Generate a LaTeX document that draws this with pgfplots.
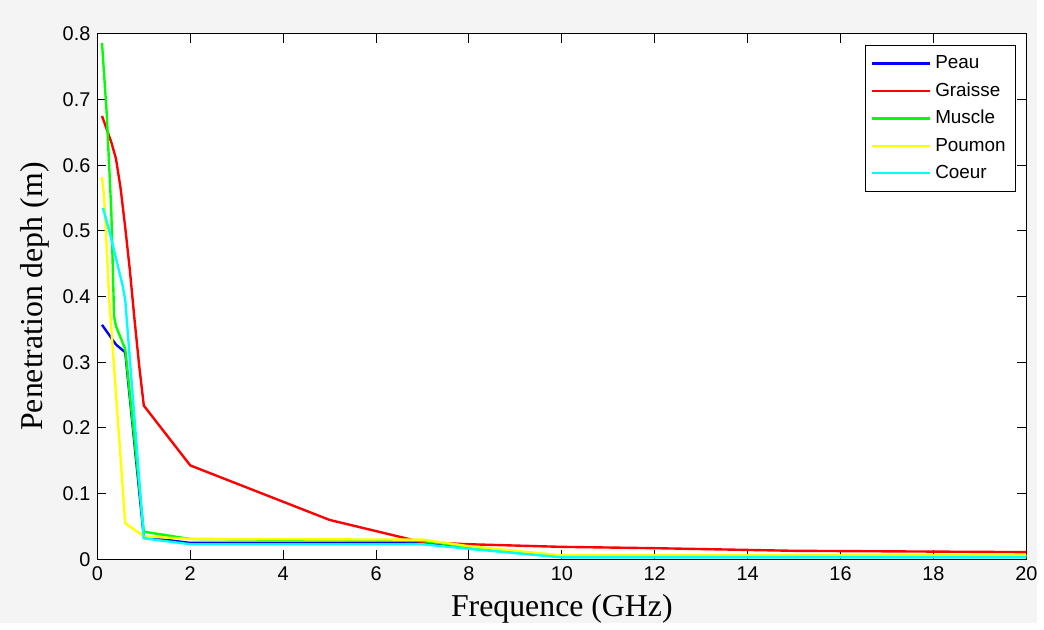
\documentclass[border=0pt]{standalone}
\usepackage{fontspec}
\setmainfont{Liberation Sans}
\newfontfamily\timesfont{Liberation Serif}
\usepackage{xcolor}
\usepackage{pgfplots}
\pgfplotsset{compat=1.18}
\usetikzlibrary{backgrounds}

\definecolor{figbg}{RGB}{244,244,244}
\definecolor{mblue}{RGB}{0,0,255}
\definecolor{mred}{RGB}{255,0,0}
\definecolor{mgreen}{RGB}{0,255,0}
\definecolor{myellow}{RGB}{255,255,0}
\definecolor{mcyan}{RGB}{0,255,255}

\begin{document}
\begin{tikzpicture}
\begin{axis}[
  name=ax,
  width=467.5pt, height=264.5pt,
  scale only axis,
  xmin=0, xmax=20, ymin=0, ymax=0.8,
  xtick={0,2,...,20},
  ytick={0,0.1,...,0.8},
  tick align=inside,
  major tick length=4.5pt,
  tick style={black, line width=0.5pt},
  axis line style={black, line width=0.6pt},
  axis background/.style={fill=white},
  /pgf/number format/assume math mode=true,
  /pgf/number format/fixed,
  /pgf/number format/precision=1,
  ticklabel style={font=\fontsize{10}{11}\selectfont},
  xlabel={\timesfont\fontsize{16}{19}\selectfont Frequence (GHz)},
  ylabel={\timesfont\fontsize{16}{19}\selectfont Penetration deph (m)},
  legend style={at={(0.989,0.979)}, anchor=north east, draw=black,
    font=\fontsize{9.5}{10}\selectfont, row sep=1.6pt, line width=0.6pt,
    inner sep=3pt},
  legend cell align=left,
  legend image code/.code={\draw[#1, line width=1.2pt] (0pt,0pt) -- (29pt,0pt);},
  every axis plot/.append style={line width=1.2pt},
]
% Peau
\addplot[mblue] coordinates {
  (0.1,0.357)(0.4,0.327)(0.6,0.315)(1,0.034)(2,0.025)(7,0.025)(8,0.018)(10,0.004)(20,0.004)
};
% Graisse
\addplot[mred] coordinates {
  (0.1,0.675)(0.2,0.655)(0.3,0.635)(0.4,0.61)(0.5,0.565)(0.6,0.505)(0.7,0.44)(0.8,0.365)
  (0.9,0.295)(1,0.234)(2,0.143)(5,0.06)(7,0.026)(8,0.023)(10,0.019)(12,0.017)(15,0.013)(20,0.011)
};
% Muscle
\addplot[mgreen] coordinates {
  (0.1,0.786)(0.2,0.68)(0.3,0.53)(0.36,0.37)(0.4,0.355)(0.6,0.32)(1,0.042)(2,0.031)
  (7,0.028)(8,0.019)(10,0.005)(20,0.005)
};
% Poumon
\addplot[myellow] coordinates {
  (0.1,0.582)(0.15,0.547)(0.26,0.39)(0.33,0.322)(0.6,0.055)(1,0.035)(2,0.031)(7,0.03)
  (8,0.02)(10,0.006)(20,0.006)
};
% Coeur
\addplot[mcyan] coordinates {
  (0.12,0.535)(0.26,0.499)(0.54,0.418)(0.6,0.395)(1,0.032)(2,0.023)(7,0.023)(8,0.016)
  (10,0.003)(20,0.003)
};
\legend{Peau, Graisse, Muscle, Poumon, Coeur}
\end{axis}
\begin{scope}[on background layer]
  \fill[figbg] ([shift={(-49pt,-32pt)}]ax.south west) rectangle ([shift={(5.5pt,17pt)}]ax.north east);
\end{scope}
\end{tikzpicture}
\end{document}
